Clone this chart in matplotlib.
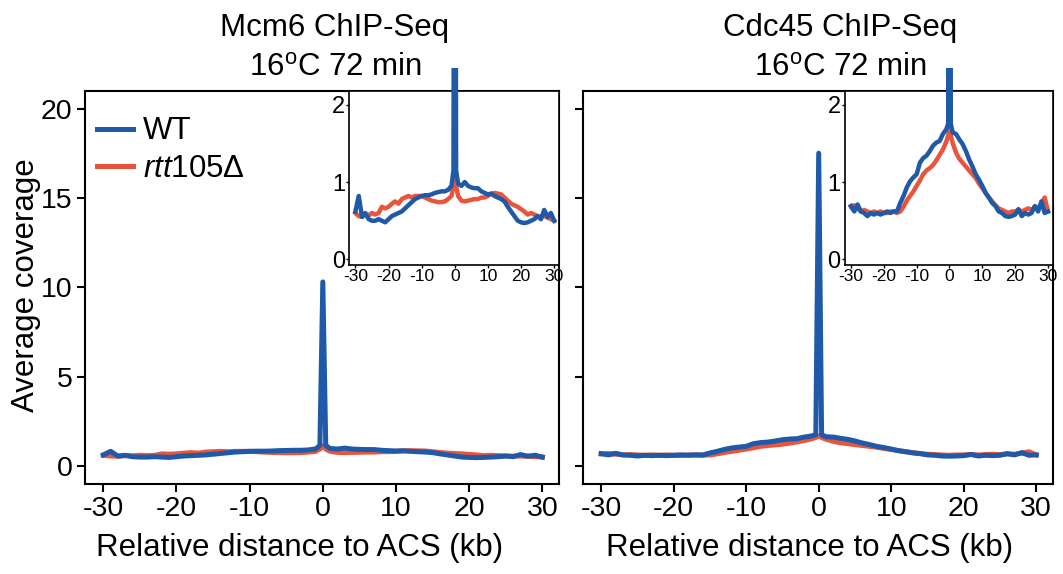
import matplotlib
matplotlib.use('Agg')
import matplotlib.pyplot as plt
from matplotlib.patches import Rectangle

plt.rcParams['font.family'] = ['Liberation Sans', 'DejaVu Sans']
plt.rcParams['mathtext.fontset'] = 'custom'
plt.rcParams['mathtext.rm'] = 'Liberation Sans'
plt.rcParams['mathtext.it'] = 'Liberation Sans:italic'

# ---------------- data ----------------
x_kb = [-30, -29, -28, -27, -26, -25, -24, -23, -22, -21, -20, -19, -18, -17, -16,
        -15, -14, -13, -12, -11, -10, -9, -8, -7, -6, -5, -4, -3, -2, -1,
        -0.4, 0, 0.4,
        1, 2, 3, 4, 5, 6, 7, 8, 9, 10, 11, 12, 13, 14, 15,
        16, 17, 18, 19, 20, 21, 22, 23, 24, 25, 26, 27, 28, 29, 30]

mcm6_wt = [0.62, 0.82, 0.55, 0.60, 0.52, 0.50, 0.50, 0.52, 0.50, 0.48, 0.52, 0.56, 0.58, 0.60, 0.62,
           0.66, 0.70, 0.74, 0.78, 0.80, 0.82, 0.83, 0.83, 0.84, 0.86, 0.87, 0.88, 0.88, 0.90, 0.95,
           1.15, 10.3, 1.15,
           0.98, 0.95, 1.00, 0.95, 0.93, 0.92, 0.92, 0.88, 0.86, 0.84, 0.85, 0.82, 0.80, 0.78, 0.75,
           0.68, 0.62, 0.56, 0.50, 0.48, 0.47, 0.48, 0.50, 0.52, 0.56, 0.52, 0.64, 0.55, 0.60, 0.50]

mcm6_rtt = [0.60, 0.56, 0.55, 0.58, 0.57, 0.60, 0.58, 0.60, 0.68, 0.66, 0.68, 0.72, 0.75, 0.72, 0.78,
            0.80, 0.82, 0.80, 0.82, 0.82, 0.82, 0.80, 0.78, 0.76, 0.75, 0.74, 0.74, 0.75, 0.78, 0.82,
            0.95, 1.15, 0.95,
            0.82, 0.76, 0.75, 0.76, 0.77, 0.78, 0.78, 0.80, 0.80, 0.82, 0.85, 0.86, 0.85, 0.84, 0.80,
            0.76, 0.72, 0.70, 0.68, 0.65, 0.62, 0.58, 0.60, 0.58, 0.56, 0.55, 0.56, 0.54, 0.52, 0.50]

cdc45_wt = [0.69, 0.62, 0.71, 0.62, 0.60, 0.56, 0.60, 0.58, 0.60, 0.58, 0.60, 0.62, 0.60, 0.62, 0.62,
            0.73, 0.82, 0.93, 1.01, 1.06, 1.10, 1.25, 1.31, 1.34, 1.40, 1.47, 1.51, 1.53, 1.62, 1.68,
            1.75, 17.5, 1.75,
            1.64, 1.62, 1.55, 1.49, 1.40, 1.29, 1.20, 1.10, 1.03, 0.95, 0.86, 0.80, 0.73, 0.69, 0.62,
            0.60, 0.56, 0.55, 0.56, 0.58, 0.65, 0.56, 0.60, 0.58, 0.60, 0.69, 0.62, 0.75, 0.60, 0.62]

cdc45_rtt = [0.68, 0.70, 0.66, 0.62, 0.64, 0.62, 0.60, 0.62, 0.60, 0.62, 0.60, 0.60, 0.62, 0.62, 0.60,
             0.62, 0.68, 0.76, 0.82, 0.88, 0.95, 1.02, 1.10, 1.15, 1.18, 1.22, 1.28, 1.35, 1.42, 1.52,
             1.60, 1.68, 1.60,
             1.50, 1.38, 1.30, 1.25, 1.20, 1.15, 1.10, 1.05, 0.98, 0.92, 0.86, 0.80, 0.75, 0.70, 0.66,
             0.64, 0.62, 0.60, 0.62, 0.62, 0.64, 0.62, 0.64, 0.66, 0.64, 0.68, 0.66, 0.72, 0.80, 0.62]

series_labels = ['WT', r'$\mathit{rtt105}$Δ']
panel_titles = [('Mcm6 ChIP-Seq', '16$^{\\mathrm{o}}$C 72 min'),
                ('Cdc45 ChIP-Seq', '16$^{\\mathrm{o}}$C 72 min')]
main_xticks = [-30, -20, -10, 0, 10, 20, 30]
main_yticks = [0, 5, 10, 15, 20]
inset_yticks = [0, 1, 2]

BLUE = '#1f5aa8'
ORANGE = '#e8553a'

fig = plt.figure(figsize=(10.63, 5.74), dpi=100)

ax_rects = [[0.080, 0.157, 0.446, 0.685], [0.5485, 0.157, 0.442, 0.685]]
datasets = [(mcm6_wt, mcm6_rtt), (cdc45_wt, cdc45_rtt)]

for i, (rect, (wt, rtt)) in enumerate(zip(ax_rects, datasets)):
    ax = fig.add_axes(rect)
    ax.plot(x_kb, rtt, color=ORANGE, lw=3.6, label=series_labels[1], zorder=2,
            solid_joinstyle='round')
    ax.plot(x_kb, wt, color=BLUE, lw=3.6, label=series_labels[0], zorder=3,
            solid_joinstyle='round')
    ax.set_xlim(-32.5, 32.3)
    ax.set_ylim(-1.0, 21.0)
    ax.set_xticks(main_xticks)
    ax.set_xticklabels([str(t) for t in main_xticks])
    ax.set_yticks(main_yticks)
    if i == 0:
        ax.set_yticklabels([str(t) for t in main_yticks])
    else:
        ax.set_yticklabels([])
    ax.tick_params(axis='both', length=6, width=1.5, labelsize=20.5, pad=3)
    for sp in ax.spines.values():
        sp.set_linewidth(1.5)

    if i == 0:
        h, l = ax.get_legend_handles_labels()
        ax.legend(h[::-1], l[::-1], loc='upper left', bbox_to_anchor=(-0.02, 0.99),
                  frameon=False, fontsize=22.5, handlelength=1.15, handletextpad=0.3,
                  labelspacing=0.25, borderaxespad=0.3)

    # inset
    axin = ax.inset_axes([0.557, 0.557, 0.443, 0.443])
    l1, = axin.plot(x_kb, rtt, color=ORANGE, lw=3.2, zorder=2, solid_joinstyle='round')
    l2, = axin.plot(x_kb, wt, color=BLUE, lw=3.2, zorder=3, solid_joinstyle='round')
    axin.set_xlim(-31.9, 31.5)
    axin.set_ylim(-0.07, 2.18)
    axin.set_xticks(main_xticks)
    axin.set_xticklabels([str(t) for t in main_xticks])
    axin.set_yticks(inset_yticks)
    axin.set_yticklabels([str(t) for t in inset_yticks])
    axin.tick_params(axis='x', length=2, width=1, labelsize=12.5, pad=1)
    axin.tick_params(axis='y', length=2, width=1, labelsize=17, pad=1)
    for sp in axin.spines.values():
        sp.set_linewidth(1.2)
    clip_rect = Rectangle((0, 0), 1, 1.13, transform=axin.transAxes)
    l2.set_clip_path(clip_rect)

    # titles and labels
    cx = [0.315, 0.790][i]
    fig.text(cx, 0.951, panel_titles[i][0], ha='center', va='center', fontsize=22.5)
    fig.text(cx, 0.882, panel_titles[i][1], ha='center', va='center', fontsize=22.5)
    xlx = [0.282, 0.762][i]
    fig.text(xlx, 0.045, 'Relative distance to ACS (kb)', ha='center', va='center',
             fontsize=22.5)

fig.text(0.024, 0.503, 'Average coverage', rotation=90, ha='center', va='center',
         fontsize=22.5)

fig.savefig('out.png', dpi=100)
